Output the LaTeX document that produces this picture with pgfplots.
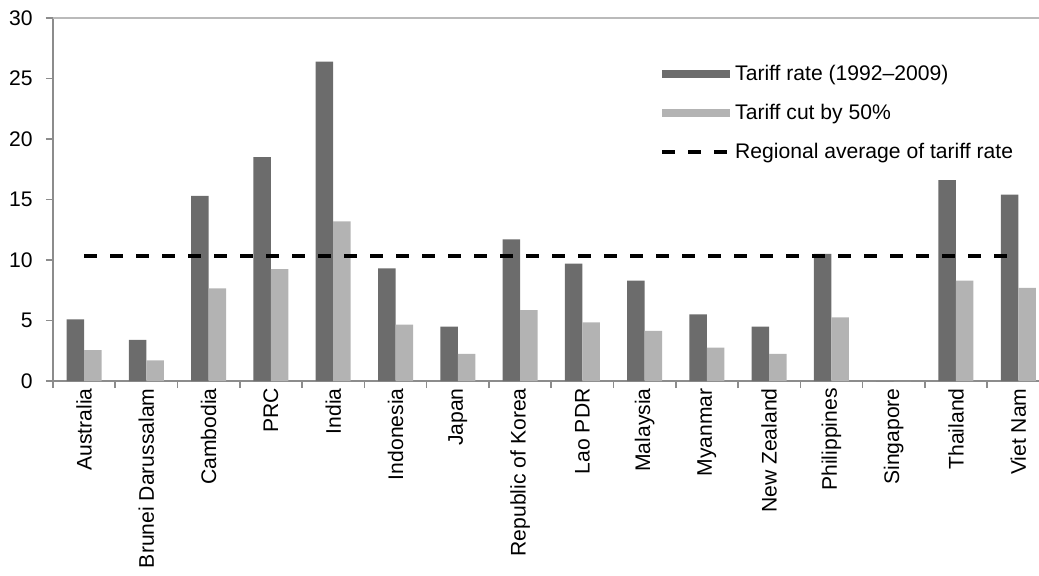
\documentclass[border=0pt]{standalone}
\usepackage{pgfplots}
\pgfplotsset{compat=1.18}
\usepackage{fontspec}
\setmainfont{Liberation Sans}
\definecolor{darkbar}{HTML}{6C6C6C}
\definecolor{lightbar}{HTML}{B3B3B3}
\definecolor{axisgray}{HTML}{8C8C8C}
\begin{document}
\begin{tikzpicture}
\begin{axis}[
  scale only axis,
  width=498.2bp, height=181.5bp,
  xmin=-0.5, xmax=15.5,
  ymin=0, ymax=30,
  ytick={0,5,...,25,30},
  extra y ticks={30},
  extra y tick labels={},
  extra y tick style={grid=major, major grid style={axisgray!60, line width=0.8bp}},
  xtick={0,...,15},
  minor xtick={-0.5,0.5,...,15.5},
  xticklabels={Australia,Brunei Darussalam,Cambodia,PRC,India,Indonesia,Japan,Republic of Korea,Lao PDR,Malaysia,Myanmar,New Zealand,Philippines,Singapore,Thailand,Viet Nam},
  axis x line*=bottom,
  axis y line*=left,
  axis line style={axisgray, line width=0.8bp, -},
  tick style={axisgray, line width=0.8bp},
  major x tick style={draw=none},
  tick align=outside,
  major tick length=3.5bp,
  minor tick length=3.5bp,
  /pgf/number format/assume math mode=true,
  ticklabel style={font=\fontsize{10.6}{12}\selectfont},
  x tick label style={rotate=90, anchor=east, inner sep=0pt},
  y tick label style={inner sep=0pt, xshift=-6.5bp},
  ybar=0pt,
  bar width=8.75bp,
  legend style={draw=none, fill=none, at={(0.609,0.88)}, anchor=north west,
    font=\fontsize{10.6}{12}\selectfont, row sep=7.3bp, inner sep=0pt,
    nodes={inner sep=1.5bp}},
  legend cell align=left,
]
\addplot[fill=darkbar, draw=none,
  legend image code/.code={\fill[darkbar] (0bp,-2bp) rectangle (34bp,2bp);}]
  coordinates {(0,5.1) (1,3.4) (2,15.3) (3,18.5) (4,26.4) (5,9.3) (6,4.5) (7,11.7)
               (8,9.7) (9,8.3) (10,5.5) (11,4.5) (12,10.5) (13,0) (14,16.6) (15,15.4)};
\addlegendentry{Tariff rate (1992–2009)}
\addplot[fill=lightbar, draw=none,
  legend image code/.code={\fill[lightbar] (0bp,-2bp) rectangle (34bp,2bp);}]
  coordinates {(0,2.55) (1,1.7) (2,7.65) (3,9.25) (4,13.2) (5,4.65) (6,2.25) (7,5.85)
               (8,4.85) (9,4.15) (10,2.75) (11,2.25) (12,5.25) (13,0) (14,8.3) (15,7.7)};
\addlegendentry{Tariff cut by 50\%}
\addplot[sharp plot, black, line width=2bp, dash pattern=on 6.5bp off 6.5bp,
  legend image code/.code={\draw[black, line width=2bp, dash pattern=on 6.5bp off 6.5bp] (0bp,0bp) -- (34bp,0bp);}]
  coordinates {(0,10.3) (15,10.3)};
\addlegendentry{Regional average of tariff rate}
\coordinate (o) at (rel axis cs:0,0);
\end{axis}
\pgfresetboundingbox
\path[use as bounding box] ([shift={(-26.5bp,-97.5bp)}]o) rectangle ([shift={(493bp,190.5bp)}]o);
\end{tikzpicture}
\end{document}
